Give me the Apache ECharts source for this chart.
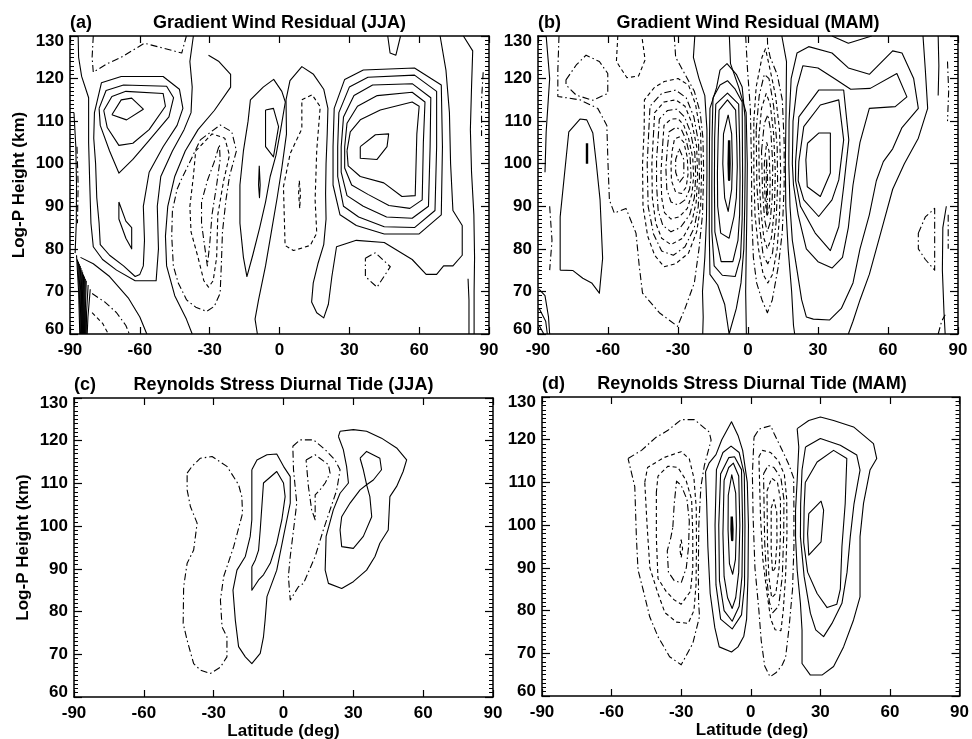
<!DOCTYPE html>
<html>
<head>
<meta charset="utf-8">
<script src="https://cdn.jsdelivr.net/npm/echarts@6/dist/echarts.min.js"></script>
<style>
html, body { margin: 0; padding: 0; background: #fff; }
#chart { width: 972px; height: 739px; }
</style>
</head>
<body>
<div id="chart"></div>
<script>
// contour lines, as [latitude (deg), log-P height (km)]

// (a) Gradient Wind Residual (JJA)
var aSolid = [
	[[-72,111.5],[-68,115],[-63.5,115.4],[-58.5,112.8],[-65.7,110.3],[-72,111.5]],
	[[-75.5,112.5],[-72,115.8],[-66,117],[-50,116.5],[-49,113.5],[-56,108],[-63,104.8],[-69,104.3],[-74,108.5],[-75.5,112.5]],
	[[-77.5,113],[-74.5,117.2],[-67,118.5],[-48.5,118.2],[-45.5,115.5],[-47.5,111],[-56,105.5],[-63,101],[-69,97.8],[-73,103],[-77,109],[-77.5,113]],
	[[-79.5,112],[-76.5,119],[-68,120.5],[-50,120.5],[-43,117.5],[-41.5,113],[-44,109],[-50,104],[-56,98],[-58.5,90],[-58,82],[-58.5,76],[-60,74],[-62,73.5],[-67,76],[-73,78.5],[-77,81],[-77.5,86],[-78.5,92],[-79,100],[-79.8,106],[-79.5,112]],
	[[-69,91],[-66,86.5],[-63.5,85],[-63.5,80],[-66,82.5],[-69,87],[-69,91]],
	[[-86.5,130],[-86.3,125],[-85,120.5],[-82,115.5],[-82,105],[-81.5,95],[-81,86],[-80,80.5],[-76,77.5],[-70,75],[-62,72.5],[-53,72.5],[-52,80],[-52.5,90],[-51,97],[-46,103],[-41,108],[-38,112],[-37.5,118],[-38.5,124],[-37,130]],
	[[-88.3,112],[-87.5,104],[-87.2,95],[-87.3,86],[-87.8,79]],
	[[-85.5,78],[-80,76.5],[-73,73.5],[-65,68.5],[-60,64],[-57,60]],
	[[-87.2,78.5],[-86.3,70],[-85.8,60]],
	[[-86.8,77.5],[-86,70],[-85.5,60]],
	[[-86.4,77],[-85.7,70],[-85.2,60]],
	[[-86,76.5],[-85.4,70],[-85,60]],
	[[-85.6,76],[-85.1,69.5],[-84.8,60]],
	[[-85.3,75.5],[-84.9,69],[-84.6,60]],
	[[-84.9,75],[-84.6,68.5],[-84.4,60]],
	[[-84.6,74.5],[-84.4,68],[-84.2,60]],
	[[-84.2,74],[-84.1,67.5],[-84,60]],
	[[-83.8,73.5],[-83.9,67],[-83.8,60]],
	[[-83.4,73],[-83.6,66.5],[-83.6,60]],
	[[-83,72.5],[-83.4,66],[-83.4,60]],
	[[-82.2,71.5],[-82.9,65],[-83,60]],
	[[-81.3,70.5],[-82.3,64],[-82.6,60]],
	[[-30.5,125.5],[-26,124],[-21,121],[-21,118],[-28,112.5],[-35,108],[-40.5,103],[-45,97],[-48,90],[-49,83],[-48.5,76],[-45,69],[-40,63.5],[-37.5,60]],
	[[-12.5,115],[-7,118],[-2.5,119.8],[1,117],[2.5,114.5],[0.5,108],[-1.5,102],[-4,97],[-6,91],[-8.5,85],[-11.5,78.5],[-14,73.5],[-15.5,78],[-17,86],[-17,95],[-15.5,103],[-13.5,110],[-12.5,115]],
	[[-6,112.6],[-2.6,113],[-0.4,108.7],[-2.6,101.6],[-6,104],[-6,109.5],[-6,112.6]],
	[[-8.7,99.5],[-8.3,95],[-8.6,92],[-9,95],[-8.7,99.5]],
	[[-9.5,60],[-10.5,63.5],[-9,68],[-6,76],[-3.5,84],[-1,92],[1,99],[3,107],[2.8,115],[4.5,119.5],[9.6,122.8],[14.6,121],[19,117.5],[20.8,113],[20.5,107],[20,100],[19.8,93],[20,87],[19,81],[16.5,76.5],[14.5,72],[13.8,67.5],[16,65],[19,63.8],[21,67],[22.5,73.5],[24.5,80.5],[33,82],[45,81.5],[57,77.5],[63,74],[67.5,74],[70.5,76],[74.5,76],[78.5,78.5],[78.5,85.5],[74.5,89],[73.5,100],[73,112],[71.5,122],[69,130]],
	[[34.7,104],[41.2,106.8],[46.9,107],[46.2,104],[41.9,101],[34.7,101.3],[34.7,104]],
	[[29,103],[30.4,107.5],[34.7,110.3],[43.3,112.6],[57,114.5],[60,113.5],[59,107],[58.3,92.5],[52.6,92.3],[44.8,95.5],[34.7,97],[29.5,99.5],[29,103]],
	[[28,104],[29,109.5],[33.5,113.5],[42,116],[57,116.8],[62.5,114.5],[61.8,105],[61.3,91.5],[56,89.5],[47,90.2],[38,92.8],[31,95],[28,99],[28,104]],
	[[26.5,104],[27.5,111],[32,116],[40,118.5],[57,118.8],[65,115.5],[64.7,104],[64,90],[57,87.2],[46,87.5],[36,90],[29,92.5],[26.5,98],[26.5,104]],
	[[25,104],[25.5,112],[30,118],[38,120.3],[58,120.8],[67.5,117],[67.5,104],[66.8,89],[58,85],[45,85.2],[34,87.5],[27.5,90],[25,97],[25,104]],
	[[23,104],[23.5,113],[28,119.8],[36,122],[58,122.5],[69.5,118.5],[70,104],[69.5,88],[60,83.5],[45,83.5],[33,85.5],[26,88],[23,95],[23,104]],
	[[46.5,130],[47.5,126],[50,125.5],[52,130]],
	[[79,130],[83,126.5],[82.5,118],[82,108],[82.5,98],[83.5,88],[83.8,78],[83.6,70],[83.6,60]],
	[[81.4,60],[81.4,68],[81,73]]
];
var aDashDot = [
	[[-80,130],[-80.5,125],[-80,121.5],[-74,123.5],[-68,125],[-58,128.3],[-42,126],[-40,130]],
	[[-34,105.6],[-25.5,109.1],[-20.5,107.5],[-18.5,103],[-21.5,97],[-23,91.5],[-24.5,84],[-25,76],[-25.5,69.6],[-28,66.5],[-31.3,65.3],[-36,66.3],[-39.9,68],[-43.5,72],[-45.6,76],[-46.3,83],[-46,89],[-44,94],[-42,96.5],[-38,101],[-34,105.6]],
	[[-31,96],[-28,100.5],[-25.8,104.5],[-25.5,101],[-27,95],[-29,88],[-30,81],[-31,76],[-32,80],[-33.5,86],[-33.5,91],[-31,96]],
	[[87.5,121.5],[86.8,115],[86.8,106.5]],
	[[-87,104],[-86.5,95],[-86.8,86]],
	[[36.9,77.8],[41.2,79.1],[47.6,75.8],[41.9,71],[36.9,73.5],[36.9,77.8]],
	[[-80.5,69.5],[-75,67.5],[-70,65],[-66,62],[-64.5,60]]
];
var aDashed = [
	[[-36,103],[-29,107],[-23.5,106],[-21.5,102],[-24,96],[-26.5,88],[-27,78],[-28.5,72.5],[-30.5,71],[-32.5,72.5],[-35,78],[-38,84],[-38.5,90],[-37,97],[-36,103]],
	[[9.6,115],[14,116.2],[17.5,113.4],[16,103.2],[15.3,91.5],[16,83.7],[13.2,80.8],[6,79.6],[2.4,80.8],[1.7,94.6],[4.6,102.4],[9.6,108.2],[9.6,115]],
	[[8.5,96],[9,93],[8.7,89.5],[8.2,93],[8.5,96]],
	[[-80.5,65],[-76,62.5],[-73.5,60]]
];

// (b) Gradient Wind Residual (MAM)
var bSolid = [
	[[-80.5,75],[-80.5,87.5],[-76.8,107.5],[-72,110.5],[-69.1,110.3],[-66.5,107.2],[-65,100],[-63.4,91.5],[-62.3,77.8],[-63.7,69.6],[-67,72],[-70.8,73.1],[-75,74.9],[-80.5,75]],
	[[-86.5,130],[-85,120],[-86.5,107.5],[-87,98]],
	[[-89.5,70.5],[-87,69],[-85.5,64],[-85,60]],
	[[-89.5,66],[-86.7,63],[-86,60]],
	[[-89.5,62],[-87.5,60]],
	[[-8.5,111.5],[-7,107],[-6.7,100],[-7,94],[-8.5,88.8],[-10,92],[-10.8,100],[-10.5,107],[-8.5,111.5]],
	[[-12.4,112.6],[-8.8,115],[-5.3,112.6],[-4.8,105],[-4.6,99.3],[-5,92],[-6,87.6],[-8.1,82.5],[-11.7,83.7],[-13,90],[-13.1,97.8],[-12.8,106],[-12.4,112.6]],
	[[-13.8,114],[-8.8,116.6],[-4,114],[-3.6,105],[-3.4,97],[-3.6,88],[-4.3,82],[-6.5,77],[-11.5,77],[-14.2,84],[-14.4,95],[-14.3,106],[-13.8,114]],
	[[-15,115.5],[-12,118.5],[-8.8,119.5],[-5.5,117.5],[-2.5,114.5],[-2.4,105],[-2.3,96],[-2.5,87],[-3.2,78],[-5.5,73.5],[-11,73.8],[-14.5,76],[-15.5,84],[-15.5,95],[-15.4,106],[-15,115.5]],
	[[-8.1,60],[-10,67],[-13,71.5],[-16.3,74],[-16.6,84],[-16.6,95],[-16.5,106],[-16.3,113],[-13.5,117.8],[-12,122],[-9,123.5],[-5,121],[-2.5,118],[-1.3,111],[-1.2,100],[-1.4,90],[-1.8,80],[-3,72],[-5,66],[-8.1,60]],
	[[-22.8,130],[-23.4,125],[-21,120],[-18.5,116],[-17.6,108],[-17.6,97],[-17.8,87],[-18.5,78],[-19.5,70],[-19.2,64],[-19.4,60]],
	[[-8,130],[-7.5,123.5],[-4,118],[-0.8,112],[-0.3,100],[-0.5,88],[-0.8,78],[-1,70],[-0.7,60]],
	[[25.5,104.8],[30.3,107.2],[35.3,107.2],[35.3,97.8],[31,92.3],[25.4,94.6],[24.8,100.9],[25.5,104.8]],
	[[21.8,100.5],[23.9,108.7],[31,113.8],[38.9,115],[41,105.6],[38.9,96.2],[36,91.5],[30.3,87.6],[23.9,91.5],[21.5,96],[21.8,100.5]],
	[[20.4,100.5],[21.8,111],[30.3,117.3],[41,117.3],[43.2,105.6],[41,94.6],[38.9,85.2],[35.3,79.6],[28.8,83.7],[22.5,90],[20.4,96],[20.4,100.5]],
	[[19,100],[19.3,110],[21,118],[23.5,123],[30,122.5],[37,120],[44,117.5],[52.4,117.7],[63.8,121.2],[68.1,115.7],[63.1,113.4],[52,113],[48,105],[45,95],[43,85],[40.5,78],[36,75.5],[30,77],[25,80],[21.5,88],[19.5,95],[19,100]],
	[[17.5,100],[17.6,110],[18.5,120],[21,126],[26,127.5],[36,126],[43,122.5],[52,121],[62,126.5],[66,126],[71,120],[73,113],[66,108.5],[62,103.5],[58,100.5],[55,96],[52,88],[48,80],[45,72],[40,66],[35,63.3],[28,63.5],[25,64],[23,68],[21,75],[19,82],[18,90],[17.5,100]],
	[[14.5,130],[16.5,124],[16.3,112],[16,100],[16.2,90],[17.2,80],[18.7,70],[19.5,62],[20,60]],
	[[75,130],[76,122],[77,113],[73,106],[67,100],[62,94],[58,86],[55,80],[52,74],[48,68],[45,63],[43,60]],
	[[36,130],[43,128.3],[53,130]],
	[[85,90],[83.5,85],[83.3,75],[84,65],[84.5,60]],
	[[81.5,130],[81.8,123],[81.5,116]]
];
var bThick = [
	[[-8.1,105.5],[-7.9,100],[-8.1,96.2],[-8.3,100],[-8.1,105.5]],
	[[-69,104.8],[-69,100]]
];
var bDashDot = [
	[[-81,130],[-81.5,122],[-81.5,115.8],[-72,115],[-64.4,113],[-60.5,109],[-60,100],[-59.4,91.5],[-57.3,88.4],[-52.3,89.5],[-48,83.7],[-46.6,75.9],[-45.2,69.6],[-38,65],[-30.2,61.8],[-27,66],[-23,72],[-21,80],[-19.5,88],[-19,98],[-19.3,106],[-20.5,112],[-23,117],[-27,121],[-31,125],[-31.6,130]],
	[[-78,119.7],[-73.6,123.2],[-69.4,125.5],[-63.7,124],[-60.1,121.2],[-60.1,116.5],[-66.5,114.9],[-73.6,116.1],[-78,118.5],[-78,119.7]],
	[[-85,90],[-84,82],[-85,75]],
	[[-42.5,108],[-42,113.5],[-37,116.5],[-31,117.3],[-26.5,115.5],[-23.2,111],[-21.2,105],[-20.8,97],[-21.3,90],[-23,85],[-27,80.5],[-32,78.5],[-37,79.5],[-40.5,83.5],[-42.8,90],[-43.2,100],[-42.5,108]],
	[[-38.5,106],[-38,110.5],[-34.5,112.5],[-30.5,112.8],[-27.2,111],[-24.7,107.5],[-22.8,102.5],[-22.4,97],[-23,92],[-25,88],[-29,85],[-33,84],[-36.5,85.5],[-38.5,89],[-39.2,95],[-39.2,101],[-38.5,106]],
	[[-34.5,104],[-33.8,107.5],[-31,108.5],[-28.5,108],[-26.5,105.5],[-24.8,101.5],[-24.4,97],[-25,94],[-27,91.5],[-30,90.3],[-33,91],[-34.8,94],[-35.2,99],[-34.5,104]],
	[[-29.5,103.5],[-27.5,101],[-27.5,97],[-29.5,95.5],[-31,98],[-31,101],[-29.5,103.5]],
	[[-1,130],[-0.2,122],[1,113],[1.5,100],[1.6,88],[2.3,78],[3.7,72],[6,68],[8.3,65],[10.4,68],[13,75.9],[14.7,84],[15.5,95],[15.5,105],[14.7,115],[12.5,121],[9.5,125],[8.4,128],[8.3,130]],
	[[3.5,108],[4.8,116],[7,121],[9,120],[11,113.5],[12.5,104],[12.7,95],[12,86],[10.5,79],[8.5,76.5],[6.5,78.5],[5,85],[3.8,95],[3.5,108]],
	[[5.8,103],[7,109.5],[8.5,111.5],[9.8,107.5],[10.6,100],[10.4,92],[9.4,86],[8.2,84],[7.1,87],[6.2,94],[5.8,103]],
	[[8,101],[8.4,96],[8.2,88],[7.9,92],[7.8,97],[8,101]],
	[[73,83.7],[76,87.5],[80,89.5],[80,82],[80,75],[76,77.5],[73,80],[73,83.7]],
	[[85.8,88],[85.8,80]],
	[[81.5,60],[83,63],[84.5,64.5]],
	[[85.5,124],[86,117],[85.5,110]]
];
var bDashed = [
	[[-55.8,130],[-56.4,124],[-51.9,120.2],[-46.9,120.6],[-44.1,124.4],[-45.5,130]],
	[[-44.5,108],[-44.4,115],[-40,118],[-35.9,119.3],[-30,120],[-25.5,118.5],[-22.5,114],[-20.3,107],[-19.9,98],[-20.3,90],[-22,84],[-25.5,79],[-31,76.5],[-36,75.8],[-40,78.5],[-43,83],[-45,90],[-45.2,100],[-44.5,108]],
	[[-40.5,107],[-40,112],[-36,114.5],[-31,115],[-27,113.5],[-24,109.5],[-22,104],[-21.6,97],[-22.2,91],[-24,86.5],[-28,82.5],[-33,81],[-37,82.5],[-39.5,86],[-41,92],[-41.2,100],[-40.5,107]],
	[[-36.5,105],[-36,109],[-33,110.5],[-30,110.6],[-27.5,109],[-25.5,106],[-23.7,101.5],[-23.3,97],[-24,93],[-26,89.5],[-29.5,87.5],[-33,87],[-35.8,88.5],[-37,92],[-37.3,98],[-36.5,105]],
	[[-32.5,103],[-31.5,105.8],[-29.5,106.3],[-27.5,105],[-26,101.5],[-25.7,97.5],[-26.5,94.5],[-28.5,93],[-31,93.3],[-32.8,96],[-33,100],[-32.5,103]],
	[[2.5,110],[3.5,118],[6,125],[7.5,127],[9.5,122],[11.8,116],[13.5,108],[14,98],[13.5,88],[12.5,80],[10.5,74],[8.5,72],[6.5,74],[4.5,80],[3,88],[2.5,98],[2.5,110]],
	[[4.6,106],[5.8,113],[7.8,116.5],[9.5,114],[11,107],[11.7,98],[11.3,89],[10,82.5],[8.3,80],[6.8,82.5],[5.5,89],[4.8,97],[4.6,106]],
	[[7,100],[8,105],[9,103],[9.5,96],[9.2,90],[8.2,87.5],[7.4,91],[7,96],[7,100]]
];

// (c) Reynolds Stress Diurnal Tide (JJA)
var cSolid = [
	[[-13.6,113.2],[-11.4,115.5],[-7.1,116.7],[-2.9,116.9],[0,114],[2.9,111.6],[2.9,105.4],[0,97.6],[-2.9,89.7],[-7.1,83.5],[-7.9,78],[-8.6,74.1],[-10,70.2],[-13.6,67.8],[-16.4,69.4],[-19.3,71.8],[-20.7,78],[-21.7,85],[-20,89.7],[-16.4,92.9],[-14.3,97.6],[-13.6,101.5],[-13.6,113.2]],
	[[-13.6,90.5],[-12.1,92.1],[-10.7,94.4],[-10,99.1],[-8.6,110.1],[-2.9,112.8],[0,110.1],[0.7,106.9],[-0.7,101.5],[-2.9,96],[-5.7,91.3],[-8.6,88.6],[-10.7,87.4],[-13.6,85],[-13.6,90.5]],
	[[23.6,121],[24.3,122.2],[30,122.6],[35.7,122.2],[42.1,120.6],[48.6,118.3],[52.9,115.5],[51.4,112.8],[48.6,109.3],[45.7,106.9],[45,99.1],[41.4,96],[39.3,92.9],[35.7,89.7],[30,87],[25,85.4],[19.3,86.6],[17.9,89.7],[18.3,97.6],[21.4,103.8],[24.3,107.7],[27.9,110.1],[27.1,114],[25.7,117.9],[23.6,121]],
	[[32.9,115.9],[35.7,117.5],[41.4,115.9],[42.1,113.2],[38.6,110.8],[35.7,109.7],[37.1,106.9],[37.9,102.2],[34.3,97.6],[30,94.8],[25,95.2],[24.3,99.1],[25,102.2],[28.6,105.4],[32.9,108.5],[35.7,109.7],[34.3,113.2],[32.9,115.9]]
];
var cDashDot = [
	[[-41.4,112.4],[-39.3,114],[-35.7,115.9],[-30.7,116.3],[-24.3,114],[-19.3,109.7],[-17.9,106.9],[-17.6,103],[-21.4,95.2],[-25.7,88.2],[-27.1,82.7],[-26.4,76.4],[-24.3,74.1],[-24.3,69.4],[-27.1,67],[-31.4,65.5],[-35.7,66.3],[-38.6,67.8],[-41.4,73.3],[-43.1,77.2],[-42.9,85.8],[-41.4,91.3],[-38.6,94.4],[-37.1,100.7],[-40,104.6],[-41.4,108.5],[-41.4,112.4]],
	[[4,118.7],[7.1,120.2],[12.9,120.2],[17.9,117.9],[22.1,115.5],[24.3,113.2],[22.9,108.5],[20,103.8],[17.1,99.1],[13.6,92.9],[8.6,86.6],[6.4,85.8],[2.9,82.7],[2.1,88.2],[2.9,92.9],[4.3,99.1],[5.7,105.4],[4.3,113.2],[4,118.7]],
	[[9.7,115.5],[13.6,116.7],[19.3,114.4],[20,112.4],[17.9,110.1],[15.7,108.5],[13.6,107.3],[13.6,101.5],[12.1,103.8],[10.7,109.3],[9.7,115.5]]
];

// (d) Reynolds Stress Diurnal Tide (MAM)
var dSolid = [
	[[-9.7,107],[-8.2,111.8],[-6.5,107.5],[-6.2,100],[-6.6,92],[-7.8,88.5],[-9.2,91],[-9.8,99],[-9.7,107]],
	[[-11.5,110.5],[-9.5,113.5],[-7.5,114.5],[-5.2,111.5],[-4.7,100],[-5.2,89],[-6.5,83],[-8,80.5],[-10,83],[-11.5,88],[-12,98],[-11.5,110.5]],
	[[-13,112],[-9.5,115.8],[-7,116],[-4,113],[-3.5,100],[-3.8,88],[-5,81],[-8,77.5],[-11.5,80],[-13.5,87],[-13.8,100],[-13,112]],
	[[-14.8,113],[-12,117],[-8.5,118.5],[-5,117],[-2.8,112],[-2.5,100],[-2.7,86],[-4,79],[-8,75.7],[-13,78],[-15,86],[-15.4,100],[-14.8,113]],
	[[-19.5,112.5],[-18,114.5],[-15,116.5],[-12.5,120],[-8.3,124.2],[-5.5,121],[-3.5,117.5],[-1.5,110],[-1,100],[-1.2,88],[-1.8,78],[-3,74],[-5.5,71.5],[-8.3,70.3],[-13.6,71.5],[-15.5,76],[-17.5,84],[-18.5,95],[-19,105],[-19.5,112.5]],
	[[25,102.7],[30.3,105.6],[31.4,103.5],[30.3,96.1],[25,93],[24.5,98],[25,102.7]],
	[[23.5,110],[28.6,114.8],[35.7,117.5],[41.4,115.6],[40.7,105],[39.3,95],[38.6,85],[37.1,81.5],[32.9,80.7],[28.6,84],[24.5,89],[22.8,96],[23,104],[23.5,110]],
	[[23.6,118.3],[30,120.3],[38.6,118.7],[45.7,116.4],[47.1,112.9],[44.5,105],[42.9,97.3],[41.5,89],[39.3,81.7],[35,77],[31.4,73.9],[28,75.5],[25.7,79.4],[23,88],[21.4,97.3],[21.5,105],[22.1,112.9],[23.6,118.3]],
	[[20,122.6],[25,124.5],[30,125.3],[35.7,124.5],[44.3,123],[52.9,119.1],[54.3,115.6],[51.4,112.9],[48.6,105.1],[47.1,97.3],[47.1,83.2],[44.3,77.8],[40,71.5],[35.7,66.9],[30.7,64.9],[25.7,64.9],[22.1,67.6],[22.1,75.4],[21.4,81.7],[20,89.5],[19.3,97.3],[19.3,103.5],[20,110.5],[20.7,118.3],[20,122.6]]
];
var dThick = [
	[[-8.2,102],[-7.9,99],[-8,96.5],[-8.3,99],[-8.2,102]]
];
var dDashDot = [
	[[-52.9,115.6],[-47.1,117.5],[-41,120.5],[-35.7,122.2],[-30,124.7],[-24.3,124.7],[-17.9,121.8],[-17.1,119.9],[-20,114],[-21.5,109],[-22.4,100],[-22.6,90],[-22.5,82],[-22.1,78.6],[-25,72.3],[-30,67.3],[-35,69.2],[-40,73.9],[-43.6,78.6],[-46,84],[-48.6,89.5],[-49.3,97],[-50,109],[-52.9,115.6]],
	[[-33.6,99.5],[-33,105],[-32,110.3],[-30,109.3],[-27.5,106],[-26.5,101],[-26.8,95],[-27.8,90],[-30,86.5],[-33,87],[-35.5,89],[-36,94],[-34.5,97],[-33.6,99.5]],
	[[1.4,120.6],[3.6,122.5],[8.6,123.3],[10,121.5],[13.6,117.5],[16.4,114.2],[18.5,111],[18.6,103],[18.6,95],[18,85],[16.5,76],[15,69],[13.6,67.3],[11,65.5],[8.3,64.5],[6,67],[4.5,73],[3.5,80],[1.8,90],[1,102],[0.7,112],[1.4,120.6]],
	[[5.5,112],[7.5,114],[10,113.5],[13,111],[14.3,106],[14.2,98],[13.6,88],[12,81],[9.5,79.5],[8,82],[6.8,88],[6,96],[5.5,112]]
];
var dDashed = [
	[[-45.7,110],[-44.5,113.5],[-37.5,115.8],[-30,117.2],[-26.5,115.5],[-24.5,111],[-23.5,104],[-23.4,95],[-23.6,86],[-24.5,80],[-27,77],[-32,77.3],[-37,79.5],[-40,84],[-43.5,90],[-44.7,100],[-45.7,110]],
	[[-40.7,107.7],[-40,111.5],[-35.7,113.8],[-31.4,113.5],[-27.9,110.5],[-25.5,106],[-25,98],[-25,90],[-26,84.5],[-30,81.5],[-33,82.5],[-36.5,84.5],[-40,87.5],[-40.7,97],[-40.7,107.7]],
	[[-30,96.6],[-29.4,94.5],[-30,92.4],[-30.6,94.5],[-30,96.6]],
	[[3.5,116],[5,117.5],[8.6,117],[12,115],[14.5,111.8],[15.5,106],[15.6,98],[15,88],[14,80],[13,75.3],[10.5,75.5],[8.6,78],[7,84],[5.2,92],[4.2,102],[3.5,116]],
	[[7,108],[9,111],[11.5,110],[12.8,106],[12.8,98],[12.2,90],[10.8,84],[9,83],[7.8,88],[7.2,96],[7,108]],
	[[8.8,104],[10,106],[11.2,103],[11.3,96],[10.5,90],[9.4,89],[8.8,94],[8.8,104]]
];

var latMin = -90, latMax = 90, latStep = 30;
var kmMin = 60, kmMax = 130, kmStep = 10;

var FONT = "'Liberation Sans', Arial, Helvetica, sans-serif";
var DASHED = [4, 3];
var DASHDOT = [7, 3, 1.5, 3];

var panels = [
	{ box: { left: 70, top: 36, width: 419, height: 298 }, tag: '(a)', title: 'Gradient Wind Residual (JJA)',
	  solid: aSolid, thick: [], dashdot: aDashDot, dashed: aDashed, yName: true, xName: false },
	{ box: { left: 538, top: 36, width: 420, height: 298 }, tag: '(b)', title: 'Gradient Wind Residual (MAM)',
	  solid: bSolid, thick: bThick, dashdot: bDashDot, dashed: bDashed, yName: false, xName: false },
	{ box: { left: 74, top: 398, width: 419, height: 299 }, tag: '(c)', title: 'Reynolds Stress Diurnal Tide (JJA)',
	  solid: cSolid, thick: [], dashdot: cDashDot, dashed: [], yName: true, xName: true },
	{ box: { left: 542, top: 397, width: 420, height: 299 }, tag: '(d)', title: 'Reynolds Stress Diurnal Tide (MAM)',
	  solid: dSolid, thick: dThick, dashdot: dDashDot, dashed: dDashed, yName: false, xName: true }
];

var axisLine = { show: true, onZero: false, lineStyle: { color: '#000', width: 1.5 } };
var tickLine = { color: '#000', width: 1.2 };
var labelFont = { color: '#000', fontFamily: FONT, fontWeight: 'bold', fontSize: 17 };

var grids = [], xAxes = [], yAxes = [], series = [], graphics = [];

panels.forEach(function (p, i) {
	grids.push({ left: p.box.left, top: p.box.top, width: p.box.width, height: p.box.height, containLabel: false });

	['bottom', 'top'].forEach(function (pos) {
		xAxes.push({
			gridIndex: i, type: 'value', position: pos,
			min: latMin, max: latMax, interval: latStep,
			axisLine: axisLine,
			axisTick: { show: true, inside: true, length: 7, lineStyle: tickLine },
			axisLabel: pos === 'bottom' ? Object.assign({ show: true, margin: 8 }, labelFont) : { show: false },
			splitLine: { show: false }
		});
	});

	['left', 'right'].forEach(function (pos) {
		yAxes.push({
			gridIndex: i, type: 'value', position: pos,
			min: kmMin, max: kmMax, interval: kmStep,
			axisLine: axisLine,
			axisTick: { show: true, inside: true, length: 8, lineStyle: tickLine },
			minorTick: { show: true, splitNumber: 10, length: 4, lineStyle: { color: '#000', width: 1 } },
			axisLabel: pos === 'left' ? Object.assign({
				show: true, margin: 6,
				formatter: function (v) {
					if (v === kmMax) return '{hi|' + v + '}';
					if (v === kmMin) return '{lo|' + v + '}';
					return String(v);
				},
				rich: {
					hi: Object.assign({ padding: [10, 0, 0, 0] }, labelFont),
					lo: Object.assign({ padding: [0, 0, 10, 0] }, labelFont)
				}
			}, labelFont) : { show: false },
			splitLine: { show: false },
			minorSplitLine: { show: false }
		});
	});

	function addLines(list, type, width) {
		list.forEach(function (pts) {
			series.push({
				type: 'line', xAxisIndex: 2 * i, yAxisIndex: 2 * i,
				data: pts, symbol: 'none', showSymbol: false, silent: true,
				animation: false, clip: true, z: 3,
				lineStyle: { color: '#000', width: width, type: type, cap: 'butt', join: 'round' }
			});
		});
	}
	addLines(p.solid, 'solid', 1.1);
	addLines(p.thick, 'solid', 2.4);
	addLines(p.dashdot, DASHDOT, 1.1);
	addLines(p.dashed, DASHED, 1.1);

	var cx = p.box.left + p.box.width / 2;
	var ty = p.box.top - 13;
	graphics.push({ type: 'text', x: p.box.left, y: ty,
		style: { text: p.tag, font: 'bold 18px ' + FONT, fill: '#000', textAlign: 'left', textVerticalAlign: 'middle' } });
	graphics.push({ type: 'text', x: cx, y: ty,
		style: { text: p.title, font: 'bold 18px ' + FONT, fill: '#000', textAlign: 'center', textVerticalAlign: 'middle' } });
	if (p.yName) {
		graphics.push({ type: 'text', x: p.box.left - 51, y: p.box.top + p.box.height / 2, rotation: Math.PI / 2,
			style: { text: 'Log-P Height (km)', font: 'bold 17px ' + FONT, fill: '#000', textAlign: 'center', textVerticalAlign: 'middle' } });
	}
	if (p.xName) {
		graphics.push({ type: 'text', x: cx, y: p.box.top + p.box.height + 34,
			style: { text: 'Latitude (deg)', font: 'bold 17px ' + FONT, fill: '#000', textAlign: 'center', textVerticalAlign: 'middle' } });
	}
});

var myChart = echarts.init(document.getElementById('chart'), null, { renderer: 'canvas' });
myChart.setOption({
	animation: false,
	backgroundColor: '#fff',
	grid: grids,
	xAxis: xAxes,
	yAxis: yAxes,
	series: series,
	graphic: graphics
});
</script>
</body>
</html>
